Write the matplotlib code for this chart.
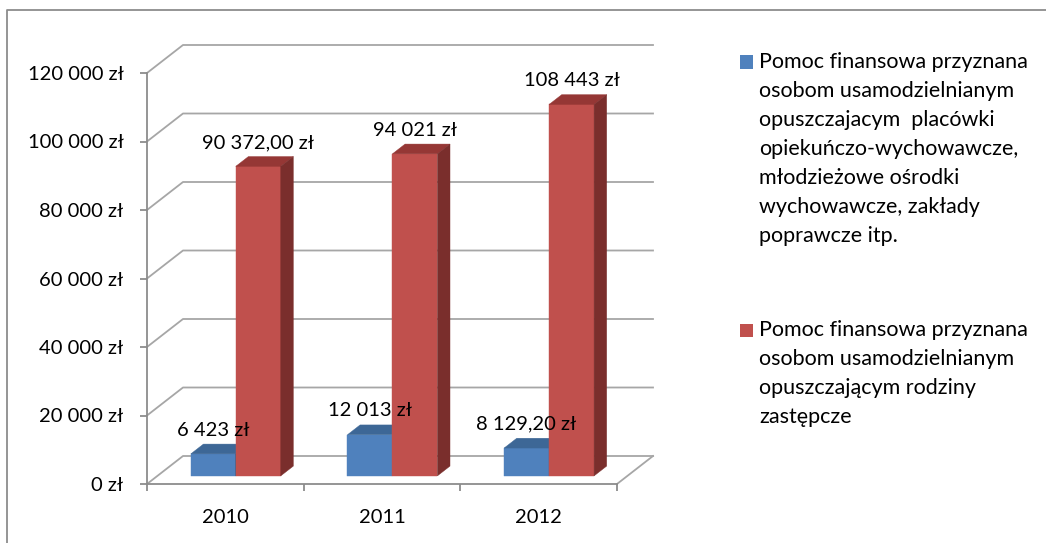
import matplotlib.pyplot as plt
from matplotlib.patches import Polygon, Rectangle
from matplotlib.lines import Line2D
import numpy as np

plt.rcParams['font.family'] = ['Lato', 'DejaVu Sans']

years = ["2010", "2011", "2012"]
placowki = [6423, 12013, 8129.20]          # blue series
rodziny = [90372, 94021, 108443]           # red series
placowki_labels = ["6 423 zł", "12 013 zł", "8 129,20 zł"]
rodziny_labels = ["90 372,00 zł", "94 021 zł", "108 443 zł"]
yticks = [0, 20000, 40000, 60000, 80000, 100000, 120000]

legend_blue = ["Pomoc finansowa przyznana", "osobom usamodzielnianym",
               "opuszczajacym  placówki", "opiekuńczo-wychowawcze,",
               "młodzieżowe ośrodki", "wychowawcze, zakłady", "poprawcze itp."]
legend_red = ["Pomoc finansowa przyznana", "osobom usamodzielnianym",
              "opuszczającym rodziny", "zastępcze"]

W_PX, H_PX = 1046, 543
fig = plt.figure(figsize=(W_PX / 100, H_PX / 100), dpi=100)

FS = 14.5      # axis / data label size
LFS = 15.5     # legend text size

# front plane of the plot area in pixels
left, right, bottom, top = 147, 617, 484, 73
ax = fig.add_axes([left / W_PX, 1 - bottom / H_PX,
                   (right - left) / W_PX, (bottom - top) / H_PX])
ax.set_xlim(0, 3)
ax.set_ylim(0, 120000)
ax.patch.set_visible(False)

# depth of the pseudo-3D box (data units)
DX = 36 / ((right - left) / 3)
DY = 28 * 120000 / (bottom - top)
grid_c = "#a6a6a6"

# back wall gridlines + side wall diagonals
for v in yticks:
    ax.plot([0, DX, 3 + DX], [v, v + DY, v + DY], color=grid_c, lw=1.3,
            clip_on=False, zorder=1)
# floor
ax.plot([3, 3 + DX], [0, DY], color=grid_c, lw=1.3, clip_on=False, zorder=1)

# bars
W = 0.287
f0, f1 = 0.29, 0.64
colors = {
    "blue": ("#4f81bd", "#3d6796", "#30527a"),
    "red": ("#c0504d", "#953735", "#7a2e2c"),
}


def draw_bar(x0, v, cols, z):
    front, topc, side = cols
    fx, fy = f0 * DX, f0 * DY
    bx, by = f1 * DX, f1 * DY
    faces = [
        ([(x0 + fx, fy), (x0 + W + fx, fy), (x0 + W + fx, fy + v), (x0 + fx, fy + v)], front),
        ([(x0 + fx, fy + v), (x0 + W + fx, fy + v), (x0 + W + bx, by + v), (x0 + bx, by + v)], topc),
        ([(x0 + W + fx, fy), (x0 + W + bx, by), (x0 + W + bx, by + v), (x0 + W + fx, fy + v)], side),
    ]
    for pts, c in faces:
        ax.add_patch(Polygon(pts, closed=True, facecolor=c, edgecolor=c, lw=0.3,
                             clip_on=False, zorder=z))


for i in range(len(years)):
    xb = i + 0.5 - W
    xr = i + 0.5
    draw_bar(xb, placowki[i], colors["blue"], 3)
    draw_bar(xr, rodziny[i], colors["red"], 4)
    ax.annotate(placowki_labels[i], xy=(xb + W / 2 + f0 * DX, placowki[i] + f1 * DY),
                xytext=(0, 14), textcoords="offset pixels", ha="center", va="center",
                fontsize=FS, zorder=6)
    ax.annotate(rodziny_labels[i], xy=(xr + W / 2 + f0 * DX, rodziny[i] + f1 * DY),
                xytext=(0, 14), textcoords="offset pixels", ha="center", va="center",
                fontsize=FS, zorder=6)

# axes
for s in ["top", "right"]:
    ax.spines[s].set_visible(False)
for s in ["left", "bottom"]:
    ax.spines[s].set_color("#8c8c8c")
    ax.spines[s].set_linewidth(1.3)
ax.set_yticks(yticks)
ax.set_yticklabels([f"{v:,.0f}".replace(",", " ") + " zł" for v in yticks])
ax.tick_params(axis="y", length=5, width=1.3, color="#8c8c8c", pad=12, labelsize=FS)
ax.set_xticks([0, 1, 2, 3])
ax.set_xticklabels([])
ax.set_xticks([0.5, 1.5, 2.5], minor=True)
ax.set_xticklabels(years, minor=True)
ax.tick_params(axis="x", which="major", length=5, width=1.3, color="#8c8c8c")
ax.tick_params(axis="x", which="minor", length=0, pad=18, labelsize=FS)

# legend drawn by hand
def legend_block(y0, lines, color):
    fig.add_artist(Rectangle((740 / W_PX, 1 - (y0 + 6.5) / H_PX), 13 / W_PX, 13 / H_PX,
                             transform=fig.transFigure, facecolor=color, edgecolor="none"))
    for k, t in enumerate(lines):
        fig.text(759 / W_PX, 1 - (y0 + 29 * k) / H_PX, t, ha="left", va="center",
                 fontsize=LFS)


legend_block(62, legend_blue, colors["blue"][0])
legend_block(330, legend_red, colors["red"][0])

# outer frame
fig.add_artist(Line2D([7 / W_PX, 7 / W_PX, 1], [0, 1 - 10 / H_PX, 1 - 10 / H_PX],
                      transform=fig.transFigure, color="#8c8c8c", lw=1.3))

fig.savefig("out.png", dpi=100)
